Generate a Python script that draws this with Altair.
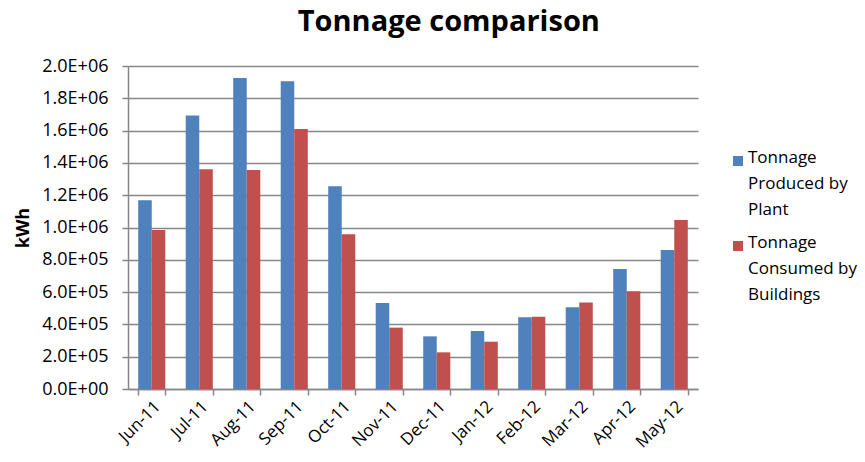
import altair as alt
import pandas as pd

months = ["Jun-11", "Jul-11", "Aug-11", "Sep-11", "Oct-11", "Nov-11",
          "Dec-11", "Jan-12", "Feb-12", "Mar-12", "Apr-12", "May-12"]
produced = [1168000, 1693000, 1926000, 1905000, 1255000, 533000,
            326000, 359000, 444000, 506000, 743000, 861000]
consumed = [985000, 1360000, 1356000, 1610000, 958000, 380000,
            227000, 293000, 448000, 535000, 605000, 1046000]
series_names = ["Tonnage Produced by Plant", "Tonnage Consumed by Buildings"]
legend_texts = ["Tonnage\nProduced by\nPlant", "Tonnage\nConsumed by\nBuildings"]
colors = ["#4F81BD", "#C0504D"]
y_ticks = [0, 200000, 400000, 600000, 800000, 1000000,
           1200000, 1400000, 1600000, 1800000, 2000000]
y_tick_labels = ["0.0E+00", "2.0E+05", "4.0E+05", "6.0E+05", "8.0E+05", "1.0E+06",
                 "1.2E+06", "1.4E+06", "1.6E+06", "1.8E+06", "2.0E+06"]

rows = []
for i, m in enumerate(months):
    rows.append({"month": m, "series": series_names[0], "value": produced[i]})
    rows.append({"month": m, "series": series_names[1], "value": consumed[i]})
df = pd.DataFrame(rows)

label_expr = " : ".join(f"datum.value == {v} ? '{l}'" for v, l in zip(y_ticks, y_tick_labels)) + " : ''"

FONT = "Open Sans"
GRAY = "#878787"

color_scale = alt.Scale(domain=series_names, range=colors)

main = alt.Chart(df).mark_bar().encode(
    x=alt.X("month:N", sort=months,
            scale=alt.Scale(paddingInner=0.43, paddingOuter=0.215),
            axis=alt.Axis(title=None, labelAngle=-45, tickBand="extent", grid=False,
                          tickSize=6, labelPadding=3, labelFontSize=17)),
    xOffset=alt.XOffset("series:N", sort=series_names,
                        scale=alt.Scale(paddingInner=0, paddingOuter=0)),
    y=alt.Y("value:Q", scale=alt.Scale(domain=[0, 2000000], nice=False),
            axis=alt.Axis(values=y_ticks, labelExpr=label_expr, title="kWh",
                          titleFontWeight="bold", titleFontSize=18, titlePadding=9,
                          tickSize=6, labelPadding=14)),
    color=alt.Color("series:N", scale=color_scale, legend=None),
).properties(width=570, height=323)

leg_df = pd.DataFrame({"series": series_names, "text": legend_texts, "row": [0, 1]})
ly = alt.Y("row:Q", scale=alt.Scale(domain=[-1.1176, 2.682], reverse=True), axis=None)
leg_sym = alt.Chart(leg_df).mark_square(size=100, opacity=1).encode(
    x=alt.value(13), y=ly,
    color=alt.Color("series:N", scale=color_scale, legend=None))
leg_txt = alt.Chart(leg_df).mark_text(align="left", baseline="top", lineBreak="\n",
                                      lineHeight=26, fontSize=17, font=FONT, dy=-11,
                                      color="black").encode(
    x=alt.value(23), y=ly, text="text:N")
legend = alt.layer(leg_sym, leg_txt).properties(width=115, height=323)

chart = alt.hconcat(main, legend, spacing=27).properties(
    title=alt.TitleParams("Tonnage comparison", fontSize=29, font=FONT, fontWeight="bold",
                          anchor="middle", offset=20, dx=13),
    padding={"left": 6, "right": 0, "top": 0, "bottom": 0},
).configure_view(stroke=None).configure_axis(
    labelFont=FONT, labelFontSize=18, labelColor="black", titleFont=FONT, titleColor="black",
    domainColor=GRAY, tickColor=GRAY, gridColor=GRAY, domainWidth=1.5, tickWidth=1.5, gridWidth=1.5,
)

chart.save("out.html", embed_options={"renderer": "svg", "actions": False})
